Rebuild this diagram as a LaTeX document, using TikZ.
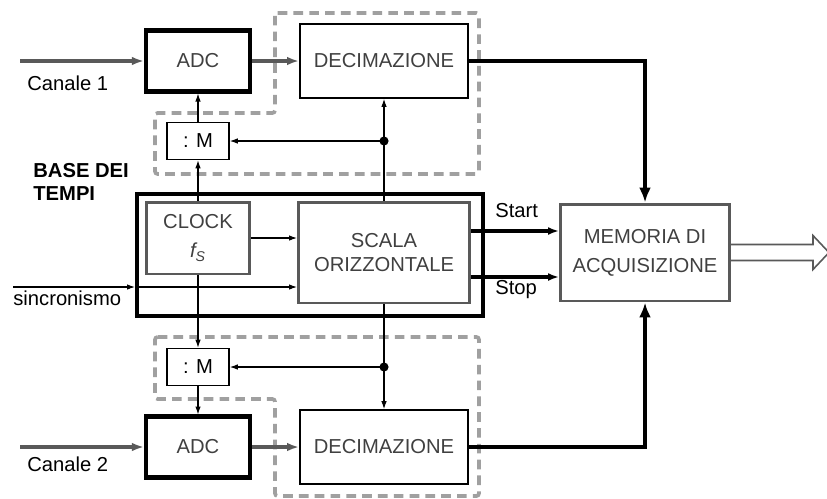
\documentclass[tikz,border=0pt]{standalone}
\usepackage{fontspec}
\setmainfont{Liberation Sans}
\usetikzlibrary{arrows.meta}
\definecolor{boxgray}{HTML}{595959}
\definecolor{dashgray}{HTML}{A0A0A0}
\definecolor{txtgray}{HTML}{404040}

\begin{document}
\begin{tikzpicture}[x=0.02cm, y=-0.02cm, every node/.style={font=\fontsize{11.5}{13.5}\selectfont, inner sep=0pt, align=center}, >={Latex[length=1.6mm, width=1.1mm]},
	adc/.style={draw, line width=2.3pt, text=txtgray, minimum width=2.08cm, minimum height=1.22cm},
	dec/.style={draw, line width=1pt, text=txtgray, minimum width=3.36cm, minimum height=1.48cm},
	div/.style={draw, line width=0.9pt, minimum width=1.24cm, minimum height=0.74cm},
	unit/.style={draw=boxgray, line width=1.7pt, text=txtgray},
	zone/.style={draw=dashgray, line width=2.1pt, dash pattern=on 5.5pt off 3.5pt, rounded corners=1.5pt},
	sig/.style={->, line width=0.6pt},
	bus/.style={-{Latex[length=3mm, width=2.4mm]}, line width=2.2pt},
	trig/.style={-{Latex[length=2.2mm, width=1.6mm]}, line width=2pt},
	chan/.style={-{Latex[length=2.4mm, width=1.7mm]}, line width=1.9pt, draw=boxgray}]
	\useasboundingbox (0,0) rectangle (827,498);
	% dashed groups
	\draw[zone] (275,13) -- (479,13) -- (479,174) -- (155,174) -- (155,113) -- (275,113) -- cycle;
	\draw[zone] (155,337) -- (479,337) -- (479,496) -- (275,496) -- (275,399) -- (155,399) -- cycle;
	% blocks
	\node[adc] (adcA) at (198,61) {ADC};
	\node[dec] (decA) at (384,61) {DECIMAZIONE};
	\node[div] (divA) at (198,141) {: M};
	\node[draw, line width=2.3pt, minimum width=6.92cm, minimum height=2.44cm] (base) at (310,255) {};
	\node[unit, minimum width=2.06cm, minimum height=1.44cm] (clock) at (198,238) {CLOCK\\[3pt]{\itshape f\textsubscript{S}}};
	\node[unit, minimum width=3.42cm, minimum height=2.02cm] (scala) at (384,252.5) {SCALA\\ORIZZONTALE};
	\node[unit, minimum width=3.38cm, minimum height=1.94cm] (mem) at (645,252.5) {MEMORIA DI\\[3pt]ACQUISIZIONE};
	\node[div] (divB) at (198,367) {: M};
	\node[adc] (adcB) at (198,447) {ADC};
	\node[dec] (decB) at (384,447) {DECIMAZIONE};
	% labels
	\node[anchor=west] (lblA) at (27,83) {Canale 1};
	\node[anchor=west] (lblB) at (27,464) {Canale 2};
	\node[anchor=west, align=left, font=\fontsize{11.5}{13.5}\selectfont\bfseries] (lblbase) at (33,182) {BASE DEI\\TEMPI};
	\node[anchor=west] (lblsync) at (13,298) {sincronismo};
	\node[anchor=west] (lblstart) at (495,211) {Start};
	\node[anchor=west] (lblstop) at (495,290) {Stop};
	% connections
	\coordinate (inA) at (20,61); \coordinate (inB) at (20,447); \coordinate (sync) at (13,287);
	\coordinate (tapA) at (384,141); \coordinate (tapB) at (384,367);
	\draw[chan] (inA) -- (adcA);
	\draw[chan] (adcA) -- (decA);
	\draw[chan] (inB) -- (adcB);
	\draw[chan] (adcB) -- (decB);
	\draw[bus] (decA) -| (mem);
	\draw[bus] (decB) -| (mem);
	\draw[sig] (clock) -- (divA);
	\draw[sig] (divA) -- (adcA);
	\draw[sig] (clock) -- (divB);
	\draw[sig] (divB) -- (adcB);
	\draw[sig] (scala) -- (decA);
	\draw[sig] (scala) -- (decB);
	\fill (tapA) circle (2.6pt); \fill (tapB) circle (2.6pt);
	\draw[sig] (tapA) -- (divA);
	\draw[sig] (tapB) -- (divB);
	\draw[sig] (clock) -- (clock -| scala.west);
	\draw[sig] (sync) -- (sync -| base.west);
	\draw[sig] (sync -| base.west) -- (sync -| scala.west);
	\coordinate (st) at ([yshift=0.43cm]scala.east); \coordinate (sp) at ([yshift=-0.49cm]scala.east);
	\draw[trig] (st) -- (st -| mem.west);
	\draw[trig] (sp) -- (sp -| mem.west);
	\draw[boxgray, line width=0.9pt] ([yshift=0.16cm]mem.east) -- ++(82,0) -- ++(0,-9) -- ++(16,17) -- ++(-16,17) -- ++(0,-9) -- ++(-82,0);
\end{tikzpicture}
\end{document}
